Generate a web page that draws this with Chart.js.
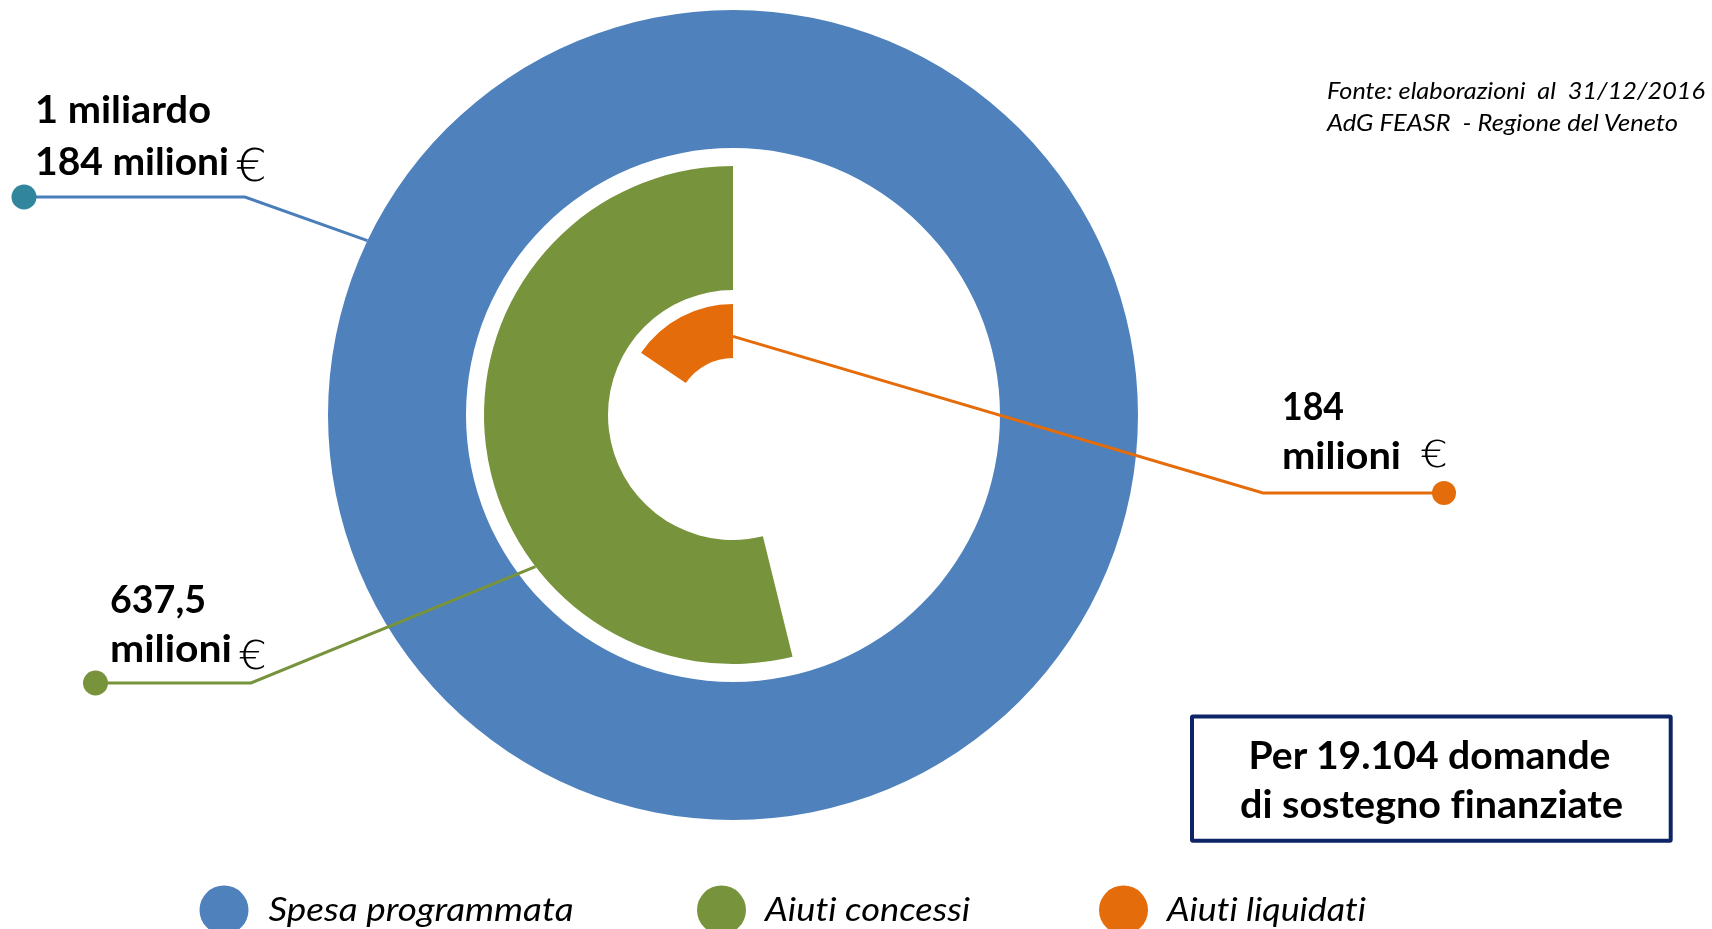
<!DOCTYPE html>
<html>
<head>
<meta charset="utf-8">
<script src="https://cdn.jsdelivr.net/npm/chart.js@4.4.1/dist/chart.umd.min.js"></script>
<style>
  html, body { margin: 0; padding: 0; background: #ffffff; }
  #wrap { position: relative; width: 1712px; height: 929px; overflow: hidden; background: #fff; }
  #c { position: absolute; left: 0; top: 0; }
  #ov { position: absolute; left: 0; top: 0; pointer-events: none; }
  #ov text { white-space: pre; font-variant-ligatures: none; }
</style>
</head>
<body>
<div id="wrap">
  <canvas id="c" width="1712" height="929"></canvas>
  <svg id="ov" width="1712" height="929" xmlns="http://www.w3.org/2000/svg"></svg>
</div>
<script>
// ---------------- DATA ----------------
const categories   = ['Spesa programmata', 'Aiuti concessi', 'Aiuti liquidati'];
const valuesMln    = [1184, 637.5, 184];           // milioni di euro
const valueLabels  = [['1 miliardo', '184 milioni'], ['637,5', 'milioni'], ['184', 'milioni']];
const seriesColors = ['#4F81BD', '#77933C', '#E46C0A'];
const sourceLines  = ['Fonte: elaborazioni  al  31/12/2016', 'AdG FEASR  - Regione del Veneto'];
const boxLines     = ['Per 19.104 domande', 'di sostegno finanziate'];

// ---------------- CHART ----------------
const TRANSPARENT = 'rgba(0,0,0,0)';
const total = valuesMln[0];

const datasets = [
  { label: categories[0], data: [valuesMln[0]], backgroundColor: [seriesColors[0]], weight: 138, borderWidth: 0 },
  { label: 'spazio', data: [1], backgroundColor: [TRANSPARENT], weight: 18, borderWidth: 0 },
  { label: categories[1], data: [total - valuesMln[1], valuesMln[1]], backgroundColor: [TRANSPARENT, seriesColors[1]], weight: 124, borderWidth: 0 },
  { label: 'spazio', data: [1], backgroundColor: [TRANSPARENT], weight: 14, borderWidth: 0 },
  { label: categories[2], data: [total - valuesMln[2], valuesMln[2]], backgroundColor: [TRANSPARENT, seriesColors[2]], weight: 54, borderWidth: 0 }
];

// leader lines: anchored on the rings computed by Chart.js
const leaders = [
  { ds: 0, angle: 205.5, frac: 1.0, elbow: [245, 197], dot: [24, 197], r: 12.5, line: '#4A7EBB', dotColor: '#31859C' },
  { ds: 2, angle: 142.5, frac: 1.0, elbow: [251, 683], dot: [95.5, 683], r: 12.5, line: '#77933C', dotColor: '#77933C' },
  { ds: 4, angle: -90,   frac: 0.4, elbow: [1263, 493], dot: [1444, 493], r: 12, line: '#E46C0A', dotColor: '#E46C0A' }
];

const leaderPlugin = {
  id: 'leaders',
  afterDatasetsDraw(chart) {
    const ctx = chart.ctx;
    leaders.forEach(L => {
      const meta = chart.getDatasetMeta(L.ds);
      const el = meta.data[meta.data.length - 1];
      const rad = el.innerRadius + L.frac * (el.outerRadius - el.innerRadius);
      const a = L.angle * Math.PI / 180;
      const px = el.x + rad * Math.cos(a);
      const py = el.y + rad * Math.sin(a);
      ctx.save();
      ctx.strokeStyle = L.line;
      ctx.lineWidth = 3;
      ctx.lineJoin = 'miter';
      ctx.beginPath();
      ctx.moveTo(L.dot[0], L.dot[1]);
      ctx.lineTo(L.elbow[0], L.elbow[1]);
      ctx.lineTo(px, py);
      ctx.stroke();
      ctx.fillStyle = L.dotColor;
      ctx.beginPath();
      ctx.arc(L.dot[0], L.dot[1], L.r, 0, Math.PI * 2);
      ctx.fill();
      ctx.restore();
    });
  }
};

new Chart(document.getElementById('c'), {
  type: 'doughnut',
  data: { labels: ['resto', 'valore'], datasets: datasets },
  options: {
    responsive: false,
    animation: false,
    events: [],
    cutout: 57,
    layout: { padding: { left: 328, right: 574, top: 10, bottom: 109 } },
    plugins: { legend: { display: false }, tooltip: { enabled: false } }
  },
  plugins: [leaderPlugin]
});

// ---------------- TEXT OVERLAY (real text) ----------------
const NS = 'http://www.w3.org/2000/svg';
const svg = document.getElementById('ov');
function txt(s, x, y, o) {
  const t = document.createElementNS(NS, 'text');
  t.setAttribute('x', x);
  t.setAttribute('y', y);
  t.setAttribute('font-family', o.family || 'Lato, "Open Sans", sans-serif');
  t.setAttribute('font-size', o.size);
  t.setAttribute('font-weight', o.weight || 'normal');
  t.setAttribute('font-style', o.style || 'normal');
  t.setAttribute('fill', o.fill || '#000');
  if (o.anchor) t.setAttribute('text-anchor', o.anchor);
  if (o.len) { t.setAttribute('textLength', o.len); t.setAttribute('lengthAdjust', 'spacingAndGlyphs'); }
  t.textContent = s;
  svg.appendChild(t);
  return t;
}
function el(name, attrs) {
  const e = document.createElementNS(NS, name);
  for (const k in attrs) e.setAttribute(k, attrs[k]);
  svg.appendChild(e);
  return e;
}

// value labels
const big = { size: 38, weight: 'bold' };
txt(valueLabels[0][0], 35, 123, Object.assign({ len: 176 }, big));
txt(valueLabels[0][1], 35, 175, Object.assign({ len: 194 }, big));
txt('€', 235, 181, { family: '"DejaVu Sans", sans-serif', size: 45, weight: 200, len: 32 });

txt(valueLabels[1][0], 110, 613, Object.assign({ len: 96 }, big));
txt(valueLabels[1][1], 110, 661.5, Object.assign({ len: 122 }, big));
txt('€', 238, 669, { family: '"DejaVu Sans", sans-serif', size: 39, weight: 200, len: 29 });

txt(valueLabels[2][0], 1282, 420, Object.assign({ len: 62 }, big));
txt(valueLabels[2][1], 1282, 469, Object.assign({ len: 119 }, big));
txt('€', 1420, 467, { family: '"DejaVu Sans", sans-serif', size: 38, weight: 200, len: 28 });

// source
txt(sourceLines[0], 1327, 99, { size: 24, style: 'italic', len: 378 });
txt(sourceLines[1], 1327, 131, { size: 24, style: 'italic', len: 351 });

// box
el('rect', { x: 1192, y: 716.5, width: 478.7, height: 124.2, fill: 'none', stroke: '#0D2566', 'stroke-width': 4, rx: 1 });
txt(boxLines[0], 1429.5, 769, { size: 39, weight: 'bold', anchor: 'middle', len: 362 });
txt(boxLines[1], 1431.5, 818, { size: 39, weight: 'bold', anchor: 'middle', len: 383 });

// legend
const legendCx = [224, 721.5, 1123.5];
const legendTx = [268.5, 765, 1167];
const legendW  = [305, 205, 199];
categories.forEach((name, i) => {
  el('circle', { cx: legendCx[i], cy: 910, r: 24.5, fill: seriesColors[i] });
  txt(name, legendTx[i], 920.5, { size: 33, style: 'italic', len: legendW[i] });
});
</script>
</body>
</html>
